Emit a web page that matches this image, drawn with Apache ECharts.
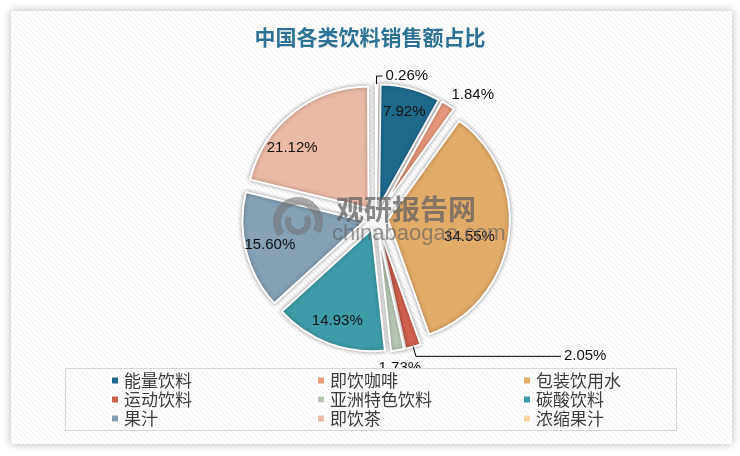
<!DOCTYPE html>
<html>
<head>
<meta charset="utf-8">
<script src="https://cdn.jsdelivr.net/npm/echarts@6/dist/echarts.min.js"></script>
<style>
html,body{margin:0;padding:0;background:#ffffff;}
#chart{width:740px;height:456px;}
</style>
</head>
<body>
<div id="chart"></div>
<script>
// ---- data ----
const titleText = '中国各类饮料销售额占比';
const categories = ['能量饮料','即饮咖啡','包装饮用水','运动饮料','亚洲特色饮料','碳酸饮料','果汁','即饮茶','浓缩果汁'];
const shares = [7.92, 1.84, 34.55, 2.05, 1.73, 14.93, 15.60, 21.12, 0.26];
const colors = ['#1e6a8d','#e8987c','#e2ab68','#d0614f','#b9c9b6','#3e9ca9','#86a0b4','#ebb9a7','#fdd6a8'];
const watermarkCN = '观研报告网';
const watermarkEN = 'chinabaogao.com';

// ---- label placement (style, keyed by category) ----
const labelPlacement = {
  '即饮咖啡':   {position:'outside', line:false, length:12, length2:-3, distance:0},
  '运动饮料':   {position:'outside', line:true,  length:10, length2:145, distance:3},
  '亚洲特色饮料': {position:'outside', line:false, length:18, length2:-27, distance:5},
  '浓缩果汁':   {position:'outside', line:true,  length:8,  length2:6,   distance:3}
};
const labelNudge = {
  '包装饮用水': {dx:-15, dy:4},
  '即饮茶':    {dx:-16, dy:16}
};

// hatch pattern
function makeHatch(){
  const c = document.createElement('canvas');
  const s = 5;
  c.width = s; c.height = s;
  const g = c.getContext('2d');
  g.fillStyle = '#ffffff'; g.fillRect(0,0,s,s);
  g.fillStyle = '#eeeeee';
  for (let i=0;i<s;i++){ g.fillRect(i,i,1,1); }
  return c;
}
const hatch = makeHatch();

const chart = echarts.init(document.getElementById('chart'), null, {renderer:'canvas'});
const CX = 376, CY = 218, R = 122, OFF = 12;
const labelFont = {fontFamily:'Liberation Sans, Arial, sans-serif', fontSize:15, color:'#111111'};

const mainData = categories.map((n,i)=>({
  name:n, value:shares[i], selected:true, itemStyle:{color:colors[i]}
}));
const labelData = categories.map((n,i)=>{
  const p = labelPlacement[n];
  const item = {name:n, value:shares[i], selected:true};
  if (p) {
    item.label = {show:true, position:p.position, distanceToLabelLine:p.distance};
    item.labelLine = {show:p.line, length:p.length, length2:p.length2, smooth:false,
      lineStyle:{color:'#000000', width:1}};
  }
  return item;
});

chart.setOption({
  animation:false,
  backgroundColor:'#ffffff',
  color:colors,
  title:{
    text:titleText, left:'center', top:22,
    textStyle:{fontFamily:'Noto Sans CJK SC', fontSize:21, fontWeight:'bold', color:'#2d7294'}
  },
  graphic:[
    {type:'rect', z:-10, silent:true,
     shape:{x:11,y:11,width:721,height:433},
     style:{fill:{image:hatch, repeat:'repeat'}, shadowBlur:10, shadowColor:'rgba(0,0,0,0.28)'}},
    {type:'rect', z:50, silent:true,
     shape:{x:65.5,y:368.5,width:611,height:62},
     style:{fill:{image:hatch, repeat:'repeat'}, stroke:'#d6d6d6', lineWidth:1}},
    {type:'arc', z:60, silent:true,
     shape:{cx:298, cy:222, r:21, startAngle:Math.PI*0.8, endAngle:Math.PI*2.15},
     style:{stroke:'rgba(115,115,115,0.6)', lineWidth:8, fill:null}},
    {type:'arc', z:60, silent:true,
     shape:{cx:298, cy:222, r:10, startAngle:-Math.PI*0.2, endAngle:Math.PI*1.15},
     style:{stroke:'rgba(115,115,115,0.6)', lineWidth:6, fill:null}},
    {type:'text', z:60, silent:true, left:336, top:195,
     style:{text:watermarkCN, fontFamily:'Noto Sans CJK SC', fontWeight:'bold', fontSize:28, fill:'rgba(95,95,95,0.72)'}},
    {type:'text', z:60, silent:true, left:332, top:223,
     style:{text:watermarkEN, fontFamily:'Liberation Sans, Arial, sans-serif', fontSize:22, fill:'rgba(95,95,95,0.62)'}}
  ],
  legend:{
    data:categories,
    left:105, top:366, width:630,
    orient:'horizontal',
    itemWidth:8, itemHeight:8, itemGap:0,
    icon:'rect',
    selectedMode:false,
    z:70,
    textStyle:{fontFamily:'Noto Sans CJK SC', fontSize:17, color:'#3c3c3c', width:192, lineHeight:19}
  },
  series:[
    {
      type:'pie', name:'main', center:[CX,CY], radius:[0,R],
      startAngle:89.3, clockwise:true,
      selectedMode:'multiple', selectedOffset:OFF,
      avoidLabelOverlap:false,
      label:{show:false}, labelLine:{show:false},
      itemStyle:{borderColor:'#ffffff', borderWidth:2, shadowBlur:4, shadowColor:'rgba(0,0,0,0.35)'},
      emphasis:{disabled:true},
      data:mainData
    },
    {
      type:'pie', name:'labels', center:[CX,CY], radius:[R*0.55,R],
      startAngle:89.3, clockwise:true, silent:true,
      selectedMode:'multiple', selectedOffset:OFF,
      avoidLabelOverlap:false, z:40,
      itemStyle:{color:'rgba(0,0,0,0)', borderWidth:0},
      emphasis:{disabled:true},
      label:Object.assign({show:true, position:'inside',
        formatter:p=>p.value.toFixed(2)+'%'}, labelFont),
      labelLine:{show:false},
      labelLayout:function(params){
        if (params.seriesIndex !== 1) return;
        const nm = categories[params.dataIndex];
        const n = labelNudge[nm];
        return n ? {dx:n.dx, dy:n.dy} : {};
      },
      data:labelData
    }
  ]
});
</script>
</body>
</html>
